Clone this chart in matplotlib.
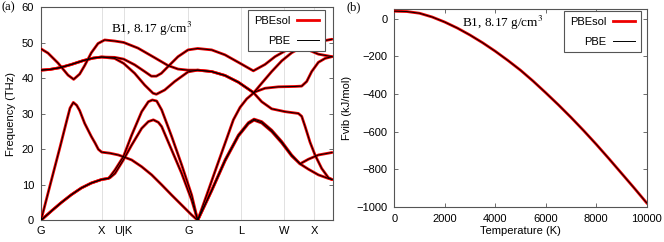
import numpy as np
import matplotlib
matplotlib.use("Agg")
import matplotlib.pyplot as plt
from matplotlib.lines import Line2D

# ---------------- data: phonon dispersion (distance along path, arb. units; THz)
path_ticks = [0, 182, 248, 442, 600, 730, 820]
path_labels = ["G", "X", "U|K", "G", "L", "W", "X"]
path_end = 875

ta1_k = [0, 31, 61, 91, 121, 151, 182, 202, 207, 222, 247, 272, 302, 322, 334, 347, 362, 392, 422, 452, 470,
         512, 552, 592, 622, 639, 662, 692, 722, 752, 777, 802, 832, 873]
ta1_f = [0, 2.6, 5.0, 7.2, 9.1, 10.5, 11.5, 11.8, 12.3, 14.2, 17.9, 24.0, 30.6, 33.4, 33.9, 33.6, 31.1, 23.6, 15.6, 7.1, 0,
         8.5, 17.0, 24.0, 27.5, 28.5, 27.8, 25.4, 22.2, 18.4, 15.9, 17.2, 18.4, 19.1]

ta2_k = [0, 31, 61, 91, 121, 151, 182, 202, 207, 222, 247, 272, 302, 322, 337, 352, 362, 392, 422, 452, 470,
         512, 552, 592, 622, 639, 662, 692, 722, 752, 777, 802, 832, 862, 873]
ta2_f = [0, 2.6, 5.0, 7.2, 9.1, 10.5, 11.5, 11.8, 12.0, 13.2, 17.0, 21.2, 25.9, 27.8, 28.3, 27.6, 26.4, 19.8, 13.2, 5.7, 0,
         8.3, 16.7, 23.7, 27.2, 28.2, 27.4, 25.0, 21.8, 18.1, 15.9, 14.4, 12.8, 11.8, 11.5]

la_k = [0, 27, 57, 77, 87, 97, 107, 116, 131, 151, 162, 172, 182, 207, 232, 247, 272, 302, 332, 362, 392, 422, 452, 470,
        497, 527, 557, 577, 597, 617, 637, 662, 692, 722, 752, 777, 802, 832, 873]
la_f = [0, 9.8, 20.6, 28.0, 31.6, 33.2, 32.4, 30.9, 27.3, 23.6, 21.8, 20.0, 19.2, 18.9, 18.4, 17.9, 17.0, 15.1, 12.8, 10.0, 7.1, 4.3, 1.5, 0,
        7.1, 15.1, 23.0, 28.3, 31.8, 34.2, 35.8, 38.6, 41.9, 44.9, 47.2, 48.5, 49.4, 50.3, 51.0]

op1_k = [0, 27, 57, 91, 127, 157, 182, 221, 248, 281, 311, 331, 346, 361, 381, 411, 441, 470,
         512, 552, 592, 637, 672, 702, 732, 762, 777, 802, 832, 873]
op1_f = [42.3, 42.5, 43.0, 43.9, 45.0, 45.7, 46.0, 45.9, 45.4, 43.8, 41.9, 40.6, 40.6, 41.4, 43.3, 46.1, 48.0, 48.4,
         48.0, 46.6, 44.5, 42.1, 43.9, 46.1, 47.7, 48.5, 48.6, 48.0, 46.8, 46.1]

op2_k = [0, 27, 57, 91, 127, 157, 182, 221, 248, 281, 311, 336, 346, 371, 401, 441, 470,
         512, 552, 592, 637, 672, 712, 762, 782, 797, 812, 832, 852, 873]
op2_f = [42.3, 42.5, 43.0, 43.9, 45.0, 45.7, 46.0, 45.6, 44.2, 41.4, 38.1, 35.8, 35.5, 36.7, 39.1, 41.8, 42.3,
         41.9, 40.8, 38.9, 36.0, 37.2, 37.6, 37.7, 37.8, 39.1, 41.9, 44.5, 45.6, 46.1]

lo_k = [0, 21, 51, 81, 98, 116, 131, 151, 171, 191, 221, 248, 291, 341, 381, 411, 441, 470,
        512, 552, 592, 637, 662, 692, 732, 772, 782, 792, 807, 822, 842, 862, 873]
lo_f = [48.3, 47.1, 44.3, 40.9, 39.7, 41.2, 43.6, 47.2, 49.8, 50.8, 50.5, 50.1, 48.5, 45.8, 43.6, 42.6, 42.3, 42.3,
        41.9, 40.8, 38.9, 36.0, 33.4, 31.4, 30.6, 30.1, 29.3, 26.5, 22.0, 18.4, 14.6, 12.0, 11.5]

bands_pbesol = [(ta1_k, ta1_f), (ta2_k, ta2_f), (la_k, la_f), (op1_k, op1_f), (op2_k, op2_f), (lo_k, lo_f)]
bands_pbe = bands_pbesol

# ---------------- data: vibrational free energy
temp_K = [0, 500, 1000, 1500, 2000, 2500, 3000, 3500, 4000, 4500, 5000,
          5500, 6000, 6500, 7000, 7500, 8000, 8500, 9000, 9500, 10000]
fvib_pbesol = [40, 38, 29, 9, -18, -50, -87, -128, -173, -222, -274,
               -332, -394, -458, -525, -595, -668, -744, -822, -900, -980]
fvib_pbe = fvib_pbesol

# ---------------- style
RED = "#ee0000"
SPINE = "#555555"
plt.rcParams['font.family'] = ['Liberation Sans', 'DejaVu Sans']
plt.rcParams['font.size'] = 8

W, H = 664, 242
fig = plt.figure(figsize=(W / 100, H / 100), dpi=100)

ax1 = fig.add_axes([41 / W, 1 - 220.3 / H, (332.7 - 41) / W, 213 / H])
ax2 = fig.add_axes([394.3 / W, 1 - 206.7 / H, (646.7 - 394.3) / W, 197.4 / H])

for ax in (ax1, ax2):
    for s in ax.spines.values():
        s.set_color(SPINE)
        s.set_linewidth(0.8)

# ---- panel (a)
for k, f in bands_pbesol:
    ax1.plot(k, f, color=RED, lw=2.0, solid_capstyle='round', solid_joinstyle='round', zorder=3)
for k, f in bands_pbe:
    ax1.plot(k, f, color='black', lw=0.7, solid_joinstyle='round', zorder=4)
ax1.set_xlim(0, path_end)
ax1.set_ylim(0, 60)
ax1.set_xticks(path_ticks)
ax1.set_xticklabels(path_labels)
ax1.set_yticks(range(0, 61, 10))
ax1.tick_params(axis='x', length=0, pad=4, labelsize=8)
ax1.tick_params(axis='y', direction='in', length=3, width=0.6, color=SPINE, right=True, pad=5, labelsize=8)
ax1.grid(axis='x', color='#dcdcdc', lw=0.6, zorder=0)
ax1.set_ylabel("Frequency (THz)", labelpad=4)
ax1.text(0.38, 0.94, "B1, 8.17 g/cm$^3$", transform=ax1.transAxes, ha='center', va='top',
         family=['Liberation Serif', 'DejaVu Serif'], fontsize=9.5, math_fontfamily='stix')

handles = [Line2D([], [], color=RED, lw=2.0), Line2D([], [], color='black', lw=0.7)]
leg1 = ax1.legend(handles, ["PBEsol", "PBE"], loc='upper right', bbox_to_anchor=(0.972, 0.987),
                  markerfirst=False, fancybox=False, framealpha=1, edgecolor=SPINE,
                  handlelength=2.0, handletextpad=0.6, borderpad=0.5, labelspacing=0.9,
                  borderaxespad=0, fontsize=8)
leg1.get_frame().set_linewidth(0.8)

# ---- panel (b)
ax2.plot(temp_K, fvib_pbesol, color=RED, lw=2.0, zorder=3)
ax2.plot(temp_K, fvib_pbe, color='black', lw=0.7, zorder=4)
ax2.set_xlim(0, 10000)
ax2.set_ylim(-1000, 50)
ax2.set_xticks(range(0, 10001, 2000))
ax2.set_yticks(range(-1000, 1, 200))
ax2.tick_params(axis='both', direction='in', length=3, width=0.6, color=SPINE,
                top=True, right=True, labelsize=8)
ax2.tick_params(axis='x', pad=5)
ax2.tick_params(axis='y', pad=5)
ax2.set_xlabel("Temperature (K)", labelpad=2)
ax2.set_ylabel("Fvib (kJ/mol)", labelpad=3)
ax2.text(0.43, 0.975, "B1, 8.17 g/cm$^3$", transform=ax2.transAxes, ha='center', va='top',
         family=['Liberation Serif', 'DejaVu Serif'], fontsize=9.5, math_fontfamily='stix')
handles2 = [Line2D([], [], color=RED, lw=2.0), Line2D([], [], color='black', lw=0.7)]
leg2 = ax2.legend(handles2, ["PBEsol", "PBE"], loc='upper right', bbox_to_anchor=(0.976, 0.99),
                  markerfirst=False, fancybox=False, framealpha=1, edgecolor=SPINE,
                  handlelength=2.0, handletextpad=0.6, borderpad=0.5, labelspacing=0.9,
                  borderaxespad=0, fontsize=8)
leg2.get_frame().set_linewidth(0.8)

fig.text(1 / W, 1 - 7 / H, "(a)", ha='left', va='center',
         family=['Liberation Serif', 'DejaVu Serif'], fontsize=9)
fig.text(347 / W, 1 - 7 / H, "(b)", ha='left', va='center',
         family=['Liberation Serif', 'DejaVu Serif'], fontsize=9)

fig.savefig("out.png", dpi=100)
